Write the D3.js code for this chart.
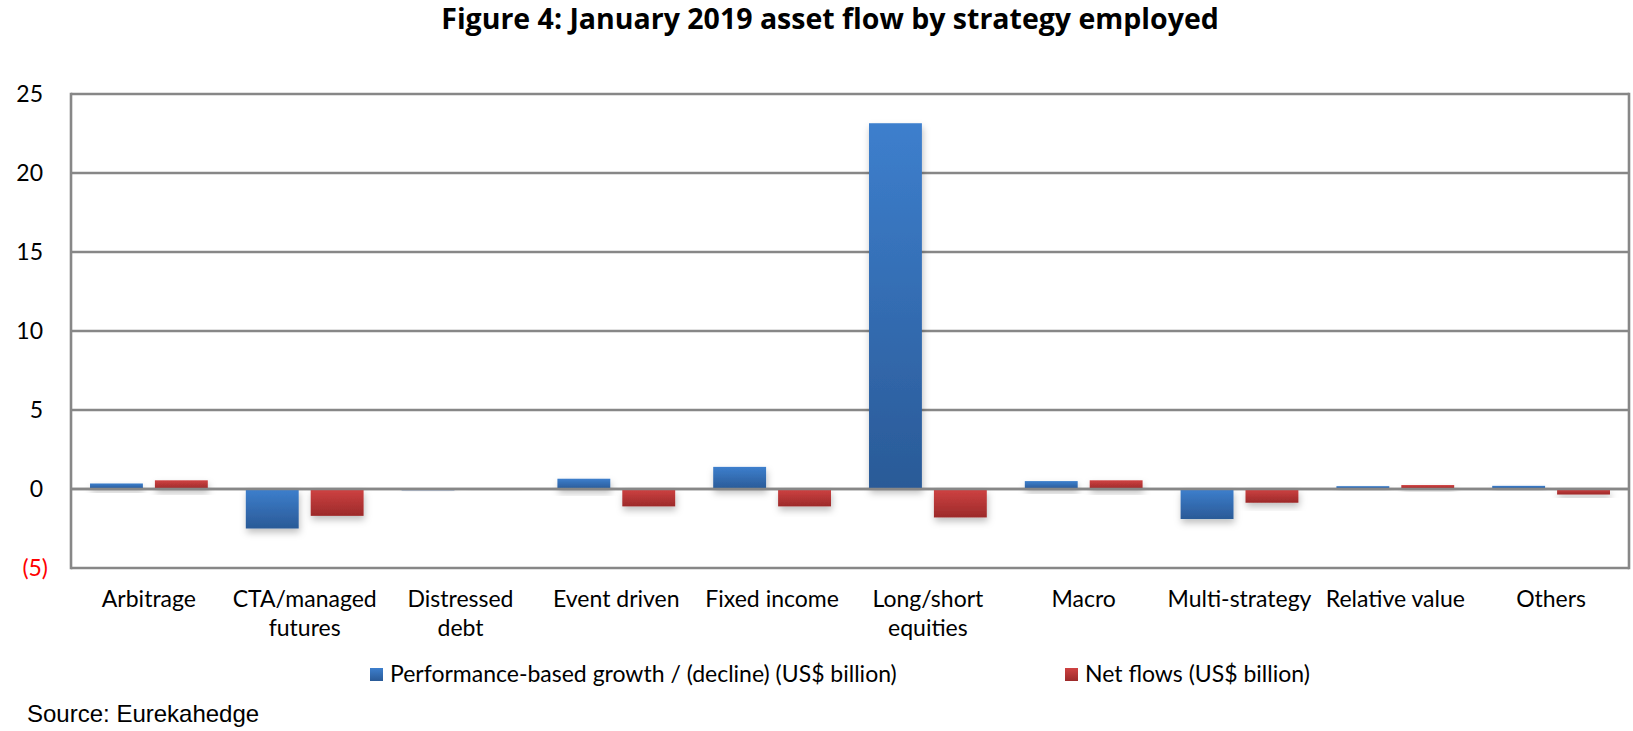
<!DOCTYPE html>
<html>
<head>
<meta charset="utf-8">
<script src="https://cdn.jsdelivr.net/npm/d3@7"></script>
<style>
  html, body { margin: 0; padding: 0; background: #ffffff; }
  svg { display: block; }
</style>
</head>
<body>
<svg id="chart" width="1633" height="731"></svg>
<script>
// ---- data ----
const categories = ["Arbitrage", "CTA/managed futures", "Distressed debt", "Event driven", "Fixed income",
                    "Long/short equities", "Macro", "Multi-strategy", "Relative value", "Others"];
const categoryLines = [["Arbitrage"], ["CTA/managed", "futures"], ["Distressed", "debt"], ["Event driven"],
                       ["Fixed income"], ["Long/short", "equities"], ["Macro"], ["Multi-strategy"],
                       ["Relative value"], ["Others"]];
const seriesNames = ["Performance-based growth / (decline) (US$ billion)", "Net flows (US$ billion)"];
const performance = [0.35, -2.5, -0.08, 0.65, 1.4, 23.15, 0.5, -1.9, 0.18, 0.2];
const netFlows    = [0.55, -1.7, -0.05, -1.1, -1.1, -1.8, 0.55, -0.87, 0.25, -0.35];
const yTicks = [-5, 0, 5, 10, 15, 20, 25];
const yTickLabels = ["(5)", "0", "5", "10", "15", "20", "25"];
const titleText = "Figure 4: January 2019 asset flow by strategy employed";
const sourceText = "Source: Eurekahedge";

// ---- layout ----
const svg = d3.select("#chart");
const plot = { left: 71, right: 1629, top: 94, bottom: 568 };
const gridColor = "#878787";
const labelFont = "Lato, 'Open Sans', sans-serif";
const labelSize = 23;

const x0 = d3.scaleBand().domain(categories).range([plot.left, plot.right])
  .paddingInner(0.244).paddingOuter(0.122);
const x1 = d3.scaleBand().domain([0, 1]).range([0, x0.bandwidth()]).paddingInner(0.185);
const y = d3.scaleLinear().domain([-5, 25]).range([plot.bottom, plot.top]);

// gradients + shadow
const defs = svg.append("defs");
const grads = [
  { id: "gBlue", top: "#3D7FCD", bottom: "#2A5A97" },
  { id: "gRed", top: "#CF4242", bottom: "#9C2A2A" }
];
grads.forEach(g => {
  const lg = defs.append("linearGradient").attr("id", g.id).attr("x1", 0).attr("y1", 0).attr("x2", 0).attr("y2", 1);
  lg.append("stop").attr("offset", "0%").attr("stop-color", g.top);
  lg.append("stop").attr("offset", "100%").attr("stop-color", g.bottom);
});
const f = defs.append("filter").attr("id", "shadow").attr("x", "-20%").attr("y", "-40%").attr("width", "140%").attr("height", "200%");
f.append("feDropShadow").attr("dx", 1).attr("dy", 4).attr("stdDeviation", 3.5)
  .attr("flood-color", "#000").attr("flood-opacity", 0.25);

// gridlines
svg.append("g").selectAll("line").data(yTicks).join("line")
  .attr("x1", plot.left).attr("x2", plot.right)
  .attr("y1", d => y(d)).attr("y2", d => y(d))
  .attr("stroke", gridColor).attr("stroke-width", 2.6);

// bars
const data = categories.map((c, i) => ({ c, vals: [performance[i], netFlows[i]] }));
const fills = ["url(#gBlue)", "url(#gRed)"];
const groups = svg.append("g").selectAll("g").data(data).join("g")
  .attr("transform", d => `translate(${x0(d.c)},0)`);
groups.selectAll("rect").data(d => d.vals.map((v, k) => ({ v, k }))).join("rect")
  .attr("x", d => x1(d.k))
  .attr("width", x1.bandwidth())
  .attr("y", d => Math.min(y(d.v), y(0)))
  .attr("height", d => Math.abs(y(d.v) - y(0)))
  .attr("fill", d => fills[d.k])
  .attr("filter", "url(#shadow)");

// zero axis line on top
svg.append("line")
  .attr("x1", plot.left).attr("x2", plot.right).attr("y1", y(0)).attr("y2", y(0))
  .attr("stroke", gridColor).attr("stroke-width", 2.6);

// frame verticals
[plot.left, plot.right].forEach(xv => {
  svg.append("line").attr("x1", xv).attr("x2", xv).attr("y1", plot.top - 1.3).attr("y2", plot.bottom + 1.3)
    .attr("stroke", gridColor).attr("stroke-width", 2.6);
});

// y labels
svg.append("g").selectAll("text").data(yTicks).join("text")
  .attr("x", (d, i) => yTickLabels[i].startsWith("(") ? 48 : 43)
  .attr("y", d => y(d))
  .attr("dy", "0.35em")
  .attr("text-anchor", "end")
  .attr("font-family", labelFont).attr("font-size", labelSize)
  .attr("fill", (d, i) => yTickLabels[i].startsWith("(") ? "#FF0000" : "#000")
  .text((d, i) => yTickLabels[i]);

// x labels
const xl = svg.append("g").selectAll("text").data(categories).join("text")
  .attr("x", d => x0(d) + x0.bandwidth() / 2)
  .attr("y", 607)
  .attr("text-anchor", "middle")
  .attr("font-family", labelFont).attr("font-size", labelSize).attr("fill", "#000");
xl.each(function (d, i) {
  const t = d3.select(this);
  categoryLines[i].forEach((ln, j) => {
    t.append("tspan").attr("x", x0(d) + x0.bandwidth() / 2).attr("dy", j === 0 ? 0 : 29).text(ln);
  });
});

// title
svg.append("text")
  .attr("x", 830).attr("y", 29).attr("text-anchor", "middle")
  .attr("font-family", "'Open Sans', sans-serif").attr("font-weight", 700).attr("font-size", 28.5)
  .attr("fill", "#000").text(titleText);

// legend
const legendPos = [{ sx: 370, tx: 390 }, { sx: 1065, tx: 1085 }];
seriesNames.forEach((name, i) => {
  svg.append("rect").attr("x", legendPos[i].sx).attr("y", 668).attr("width", 13).attr("height", 13)
    .attr("fill", fills[i]);
  svg.append("text").attr("x", legendPos[i].tx).attr("y", 682)
    .attr("font-family", labelFont).attr("font-size", labelSize).attr("fill", "#000").text(name);
});

// source
svg.append("text").attr("x", 27).attr("y", 722)
  .attr("font-family", "'Liberation Sans', Arial, sans-serif").attr("font-size", 24).attr("fill", "#000")
  .text(sourceText);
</script>
</body>
</html>
